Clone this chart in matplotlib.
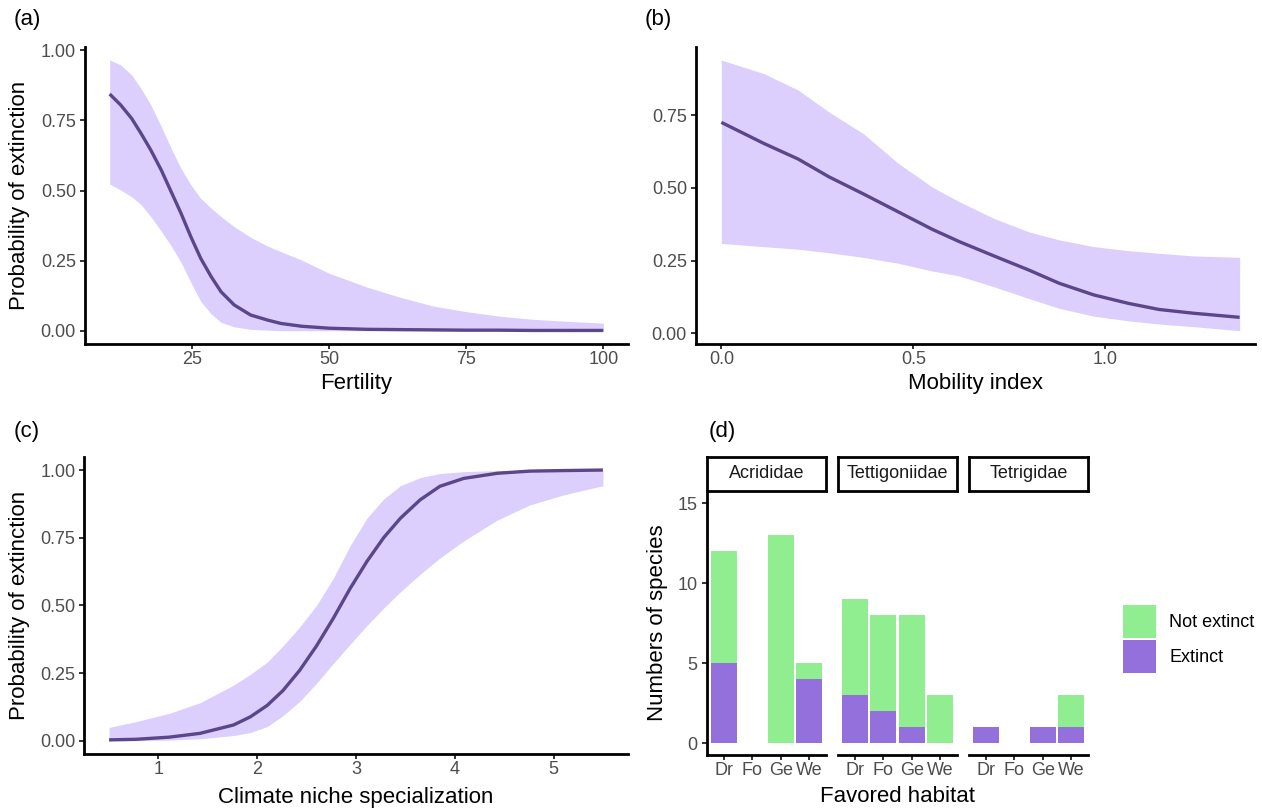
import numpy as np
import matplotlib
matplotlib.use("Agg")
import matplotlib.pyplot as plt
from matplotlib.patches import Patch

plt.rcParams['font.family'] = ['Liberation Sans', 'DejaVu Sans']

# ---- data ----
# (a) fertility
fert_x = [10, 12, 14, 15.7, 17.5, 19.4, 21.2, 23, 24.8, 26.6, 28.5, 30.3, 32.7,
          35.7, 38.8, 41.2, 45, 50, 57, 63, 69, 75, 81, 87, 93, 100]
fert_fit = [0.844, 0.805, 0.757, 0.704, 0.644, 0.573, 0.496, 0.419, 0.335, 0.258,
            0.193, 0.139, 0.092, 0.056, 0.038, 0.026, 0.016, 0.009, 0.005, 0.004,
            0.003, 0.002, 0.002, 0.001, 0.001, 0.001]
fert_hi = [0.965, 0.948, 0.912, 0.864, 0.805, 0.728, 0.650, 0.579, 0.520, 0.472,
           0.437, 0.407, 0.371, 0.333, 0.302, 0.282, 0.252, 0.205, 0.155, 0.119,
           0.088, 0.068, 0.052, 0.041, 0.034, 0.027]
fert_lo = [0.523, 0.502, 0.478, 0.450, 0.407, 0.355, 0.303, 0.244, 0.172, 0.105,
           0.060, 0.030, 0.014, 0.005, 0.002, 0.0, 0.0, 0.0, 0.0, 0.0,
           0.0, 0.0, 0.0, 0.0, 0.0, 0.0]

# (b) mobility
mob_x = [0, 0.11, 0.2, 0.28, 0.37, 0.46, 0.55, 0.62, 0.71, 0.8, 0.88, 0.97, 1.06, 1.14, 1.23, 1.35]
mob_fit = [0.725, 0.653, 0.599, 0.538, 0.479, 0.418, 0.357, 0.315, 0.266, 0.218,
           0.172, 0.132, 0.103, 0.082, 0.069, 0.055]
mob_hi = [0.939, 0.893, 0.836, 0.761, 0.686, 0.585, 0.502, 0.452, 0.395, 0.349,
          0.321, 0.298, 0.284, 0.275, 0.266, 0.261]
mob_lo = [0.309, 0.298, 0.289, 0.277, 0.261, 0.241, 0.214, 0.197, 0.160, 0.120,
          0.086, 0.059, 0.043, 0.032, 0.023, 0.009]

# (c) climate niche specialization
clim_x = [0.5, 0.77, 1.11, 1.42, 1.76, 1.93, 2.1, 2.26, 2.43, 2.6, 2.77, 2.94,
          3.11, 3.28, 3.45, 3.65, 3.85, 4.09, 4.43, 4.76, 5.1, 5.5]
clim_fit = [0.003, 0.005, 0.013, 0.027, 0.058, 0.088, 0.130, 0.185, 0.260, 0.350,
            0.452, 0.562, 0.662, 0.750, 0.822, 0.890, 0.940, 0.969, 0.988, 0.996,
            0.998, 1.0]
clim_hi = [0.049, 0.070, 0.101, 0.140, 0.205, 0.245, 0.290, 0.350, 0.420, 0.500,
           0.600, 0.720, 0.822, 0.893, 0.942, 0.972, 0.987, 0.994, 0.998, 0.999,
           1.0, 1.0]
clim_lo = [0.0, 0.0, 0.002, 0.007, 0.019, 0.030, 0.052, 0.092, 0.145, 0.212,
           0.285, 0.356, 0.425, 0.490, 0.550, 0.615, 0.675, 0.738, 0.815, 0.871,
           0.908, 0.942]

# (d) counts per family and habitat
families = ['Acrididae', 'Tettigoniidae', 'Tetrigidae']
habitats = ['Dr', 'Fo', 'Ge', 'We']
extinct = {'Acrididae': [5, 0, 0, 4],
           'Tettigoniidae': [3, 2, 1, 0],
           'Tetrigidae': [1, 0, 1, 1]}
not_extinct = {'Acrididae': [7, 0, 13, 1],
               'Tettigoniidae': [6, 6, 7, 3],
               'Tetrigidae': [0, 0, 0, 2]}

line_col = '#5B468A'
band_col = '#DCCEFD'
green = '#90EE90'
purple = '#9370DB'
tick_txt = '#4D4D4D'

W, H = 1262, 809
fig = plt.figure(figsize=(W / 100, H / 100), dpi=100)


def px_axes(left, top, right, bottom):
    return fig.add_axes([left / W, 1 - bottom / H, (right - left) / W, (bottom - top) / H])


def classic(ax, left=True):
    for s in ['top', 'right']:
        ax.spines[s].set_visible(False)
    ax.spines['bottom'].set_linewidth(2)
    ax.spines['left'].set_linewidth(2)
    if not left:
        ax.spines['left'].set_visible(False)
        ax.tick_params(axis='y', left=False, labelleft=False)
    ax.tick_params(axis='both', colors='#333333', width=1.4, length=3.5,
                   labelsize=13, labelcolor=tick_txt)
    ax.tick_params(axis='x', pad=1.5)
    ax.tick_params(axis='y', pad=3)


def curve_panel(ax, x, fit, lo, hi):
    ax.fill_between(x, lo, hi, color=band_col, lw=0)
    ax.plot(x, fit, color=line_col, lw=2.4, solid_capstyle='butt',
            solid_joinstyle='round')


# (a)
ax_a = px_axes(85, 46.9, 628, 344.2)
curve_panel(ax_a, fert_x, fert_fit, fert_lo, fert_hi)
ax_a.set_xlim(5.5, 104.5)
ax_a.set_ylim(-0.048, 1.012)
ax_a.set_xticks([25, 50, 75, 100])
ax_a.set_yticks([0, 0.25, 0.5, 0.75, 1.0])
ax_a.set_yticklabels(['0.00', '0.25', '0.50', '0.75', '1.00'])
classic(ax_a)

# (b)
ax_b = px_axes(696, 46.7, 1255, 343.8)
curve_panel(ax_b, mob_x, mob_fit, mob_lo, mob_hi)
ax_b.set_xlim(-0.066, 1.39)
ax_b.set_ylim(-0.036, 0.985)
ax_b.set_xticks([0, 0.5, 1.0])
ax_b.set_xticklabels(['0.0', '0.5', '1.0'])
ax_b.set_yticks([0, 0.25, 0.5, 0.75])
ax_b.set_yticklabels(['0.00', '0.25', '0.50', '0.75'])
classic(ax_b)

# (c)
ax_c = px_axes(84.4, 456.5, 627.6, 754.2)
curve_panel(ax_c, clim_x, clim_fit, clim_lo, clim_hi)
ax_c.set_xlim(0.25, 5.75)
ax_c.set_ylim(-0.05, 1.05)
ax_c.set_xticks([1, 2, 3, 4, 5])
ax_c.set_yticks([0, 0.25, 0.5, 0.75, 1.0])
ax_c.set_yticklabels(['0.00', '0.25', '0.50', '0.75', '1.00'])
classic(ax_c)

# (d) faceted stacked bars
pos = np.arange(len(habitats))
for i, fam in enumerate(families):
    left = 706.7 + i * 131
    ax = px_axes(left, 491, left + 119.5, 755)
    ax.bar(pos, extinct[fam], width=0.92, color=purple, lw=0)
    ax.bar(pos, not_extinct[fam], bottom=extinct[fam], width=0.92, color=green, lw=0)
    ax.set_xlim(-0.6, 3.6)
    ax.set_ylim(-0.75, 15.75)
    ax.set_xticks(pos)
    ax.set_xticklabels(habitats)
    ax.set_yticks([0, 5, 10, 15])
    classic(ax, left=(i == 0))
    st = px_axes(left, 457, left + 119.5, 491)
    st.set_xticks([])
    st.set_yticks([])
    for s in st.spines.values():
        s.set_linewidth(2)
        s.set_color('black')
    st.text(0.5, 0.5, fam, ha='center', va='center', fontsize=13, color='#1A1A1A')

fig.legend(handles=[Patch(fc=green, lw=0, label='Not extinct'),
                    Patch(fc=purple, lw=0, label='Extinct')],
           loc='upper left', bbox_to_anchor=(1123 / W, 1 - 605 / H),
           frameon=False, borderpad=0, borderaxespad=0, handlelength=1.83,
           handleheight=2.44, labelspacing=0.11, handletextpad=0.72, fontsize=13)

# axis titles and panel tags
def ftext(x, y, s, **kw):
    fig.text(x / W, 1 - y / H, s, ha='center', va='center', **kw)

ftext(356, 383, 'Fertility', fontsize=16)
ftext(975, 383, 'Mobility index', fontsize=16)
ftext(356, 797, 'Climate niche specialization', fontsize=16)
ftext(897, 797, 'Favored habitat', fontsize=16)
ftext(20, 195, 'Probability of extinction', fontsize=16, rotation=90)
ftext(20, 605, 'Probability of extinction', fontsize=16, rotation=90)
ftext(657, 623, 'Numbers of species', fontsize=16, rotation=90)

ftext(27, 19, '(a)', fontsize=16)
ftext(658, 19, '(b)', fontsize=16)
ftext(27, 432, '(c)', fontsize=16)
ftext(722, 432, '(d)', fontsize=16)

fig.savefig('out.png', dpi=100)
